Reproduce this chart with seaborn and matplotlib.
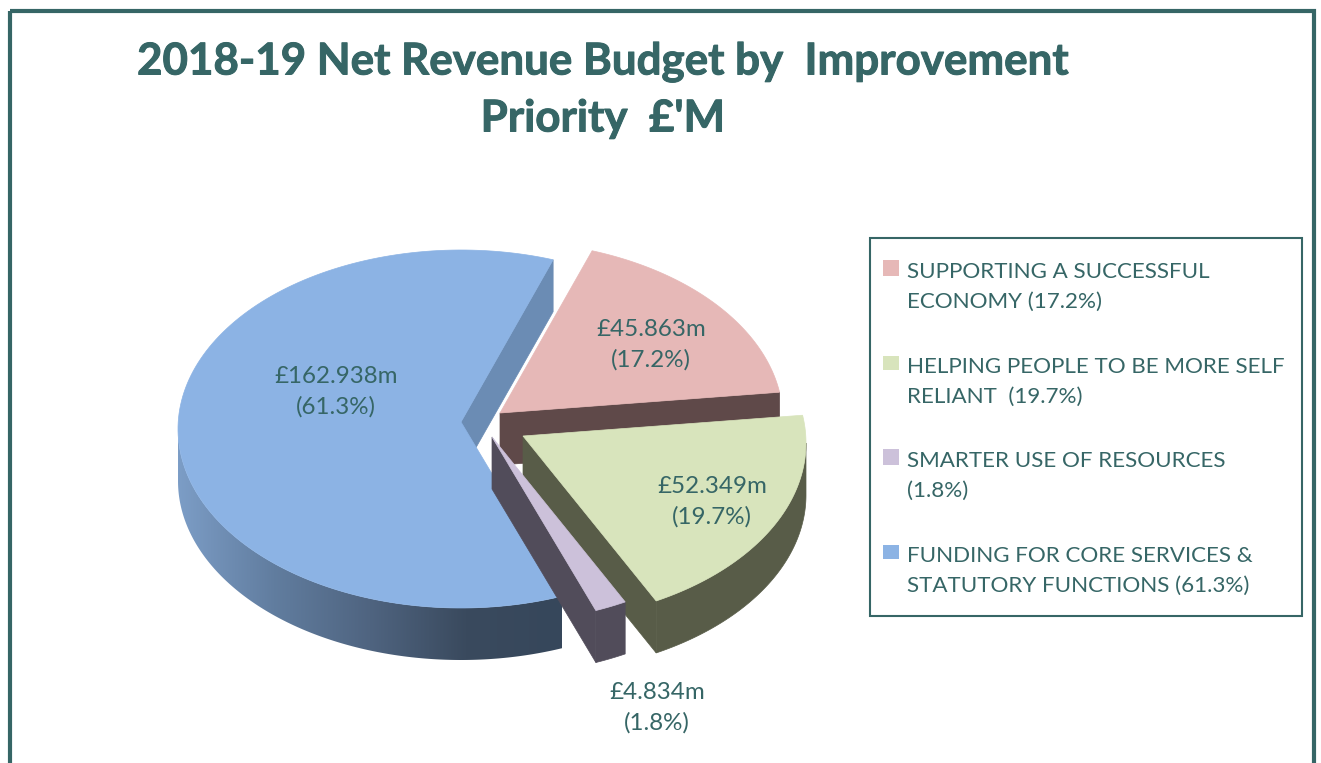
import numpy as np
import matplotlib
matplotlib.use("Agg")
import matplotlib.pyplot as plt
import matplotlib.patheffects as pe
from matplotlib.colors import LinearSegmentedColormap
from matplotlib.patches import Polygon, Rectangle
import seaborn as sns

# values, in clockwise order
names = ["SUPPORTING A SUCCESSFUL\nECONOMY (17.2%)",
         "HELPING PEOPLE TO BE MORE SELF\nRELIANT  (19.7%)",
         "SMARTER USE OF RESOURCES\n(1.8%)",
         "FUNDING FOR CORE SERVICES &\nSTATUTORY FUNCTIONS (61.3%)"]
budget = [45.863, 52.349, 4.834, 162.938]
top_colours = ["#e6b8b7", "#d8e4bc", "#ccc1da", "#8cb3e4"]
wall_colours = ["#5f4949", "#585c48", "#514c5a", "#6b8cb4"]
title_text = "2018-19 Net Revenue Budget by  Improvement\nPriority  £'M"

TEAL = "#366666"

# pie layout, in pixels
centre = (478, 423)
offsets = [(22, -10), (45, 13), (14, 14), (-17, -1)]
label_pos = [(651, 345), (712, 502), (657, 708), (336, 392)]
legend_y = [287, 382, 476, 571]
marker_y = [(260, 276), (356, 370), (449, 465), (545, 559)]
RX, RY, DROP = 283, 179, 7
DEPTH = 52
FIRST_ANGLE = 71

sns.set_theme(style="white")
plt.rcParams["font.family"] = ["Lato", "DejaVu Sans"]

fig = plt.figure(figsize=(13.21, 7.63), dpi=100)
ax = fig.add_axes([0, 0, 1, 1])
ax.set_xlim(0, 1321)
ax.set_ylim(763, 0)
ax.set_axis_off()


def rim(apex, t0, t1, depth=0):
    # points of the squashed circle, its middle sits a little below the apex
    t = np.radians(np.linspace(t0, t1, 160))
    x = apex[0] + RX * np.cos(t)
    y = apex[1] + DROP - RY * np.sin(t) + depth
    return np.column_stack([x, y])


sweep = np.array(budget) / sum(budget) * 360
ends = FIRST_ANGLE - np.cumsum(sweep)
starts = ends + sweep

# back to front: blue, pink, green, lilac
for order, i in enumerate([3, 0, 1, 2]):
    z = 2 + order * 3
    apex = (centre[0] + offsets[i][0], centre[1] + offsets[i][1])
    t0, t1 = starts[i], ends[i]

    # cut face on the trailing side of the slice
    p = rim(apex, t1, t1)[0]
    cut = [apex, p, (p[0], p[1] + DEPTH), (apex[0], apex[1] + DEPTH)]
    ax.add_patch(Polygon(cut, closed=True, fc=wall_colours[i], ec=wall_colours[i], lw=0.5, zorder=z))

    if i == 3:
        # the big slice has a shaded outer wall
        outline = np.vstack([rim(apex, t0, -180), rim(apex, -180, t0, DEPTH)])
        shape = Polygon(outline, closed=True, fc="none", ec="none", zorder=z)
        ax.add_patch(shape)
        shade = LinearSegmentedColormap.from_list(
            "wall", ["#7c9dc6", "#617d9f", "#4f6480", "#3a4a5e", "#36475b"])
        im = ax.imshow(np.linspace(0, 1, 256).reshape(1, -1), cmap=shade, aspect="auto",
                       extent=(178, 562, 670, 415), zorder=z + 1)
        im.set_clip_path(shape)
        ax.set_xlim(0, 1321)
        ax.set_ylim(763, 0)
    elif t1 < 0:
        a = min(t0, 0)
        outline = np.vstack([rim(apex, a, t1), rim(apex, t1, a, DEPTH)])
        ax.add_patch(Polygon(outline, closed=True, fc=wall_colours[i], ec=wall_colours[i],
                             lw=0.5, zorder=z + 1))

    top = np.vstack([[apex], rim(apex, t0, t1)])
    ax.add_patch(Polygon(top, closed=True, fc=top_colours[i], ec=top_colours[i],
                         lw=0.5, zorder=z + 2))

    ax.text(label_pos[i][0], label_pos[i][1],
            f"£{budget[i]:.3f}m\n({budget[i] / sum(budget) * 100:.1f}%)",
            ha="center", va="center", color=TEAL, fontsize=17.4, linespacing=1.53, zorder=30)

# title
title = ax.text(602.5, 90, title_text, ha="center", va="center", color=TEAL, fontsize=31.6,
                fontweight="bold", linespacing=1.5, zorder=30)
title.set_path_effects([pe.withStroke(linewidth=0.7, foreground=TEAL)])

# legend
ax.add_patch(Rectangle((870, 237.5), 432, 378, fc="white", ec=TEAL, lw=1.5, zorder=20))
for i, name in enumerate(names):
    y0, y1 = marker_y[i]
    ax.add_patch(Rectangle((883, y0), 16, y1 - y0, fc=top_colours[i], ec="none", zorder=21))
    ax.text(907, legend_y[i], name, ha="left", va="center", color=TEAL, fontsize=16.1,
            linespacing=1.65, zorder=21)

# outer frame, runs off the bottom of the picture
ax.add_patch(Rectangle((10, 11), 1304, 800, fc="none", ec=TEAL, lw=3, zorder=25, clip_on=True))

fig.savefig("out.png", dpi=100, facecolor="white")
